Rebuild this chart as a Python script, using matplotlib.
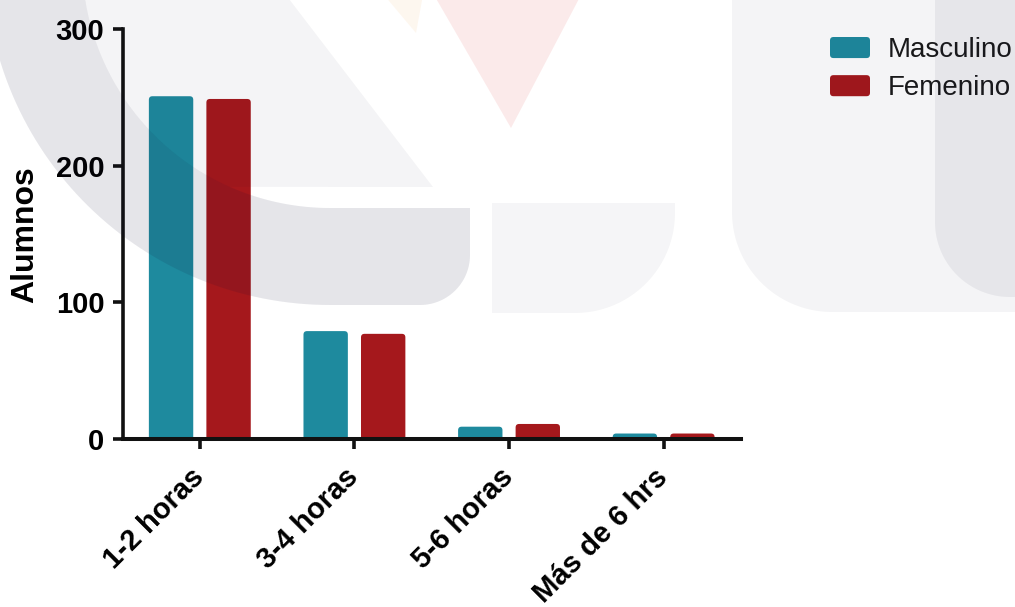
import matplotlib
matplotlib.use("Agg")
import matplotlib.pyplot as plt
import numpy as np
from matplotlib.patches import FancyBboxPatch, Patch, Polygon
from matplotlib.legend_handler import HandlerPatch
from matplotlib.transforms import Affine2D, ScaledTranslation

# ---- data -------------------------------------------------------------
categories = ["1-2 horas", "3-4 horas", "5-6 horas", "Más de 6 hrs"]
masculino = [251, 79, 9, 4]
femenino = [249, 77, 11, 4]
series_names = ["Masculino", "Femenino"]
y_ticks = [0, 100, 200, 300]

# ---- style ------------------------------------------------------------
colors = ["#1E8A9E", "#A5181C"]
plt.rcParams["font.family"] = ["Liberation Sans", "DejaVu Sans"]

W, H = 1015, 607
fig = plt.figure(figsize=(W / 100, H / 100), dpi=100)
fig.patch.set_facecolor("white")

# pixel coordinates (origin top-left) for the background emblem
px = Affine2D().scale(1 / W, -1 / H).translate(0, 1) + fig.transFigure

ax = fig.add_axes([0.1207, 0.2768, 0.6093, 0.6749])
ax.set_facecolor("none")

x = np.arange(len(categories))
width = 0.287
offset = 0.186
bars_m = ax.bar(x - offset, masculino, width, color=colors[0])
bars_f = ax.bar(x + offset, femenino, width, color=colors[1])

ax.set_xlim(-0.5, 3.5)
ax.set_ylim(0, 300)

# replace plain rectangles with rounded-top boxes of the same geometry
pos = ax.get_position()
px_per_x = pos.width * W / (ax.get_xlim()[1] - ax.get_xlim()[0])
px_per_y = pos.height * H / (ax.get_ylim()[1] - ax.get_ylim()[0])
aspect = px_per_x / px_per_y
rx = 3.5 / px_per_x
ry = rx * aspect
for container, color in ((bars_m, colors[0]), (bars_f, colors[1])):
    for rect in container:
        x0, w, h = rect.get_x(), rect.get_width(), rect.get_height()
        box = FancyBboxPatch((x0, -ry), w, h + ry,
                             boxstyle=f"round,pad=0,rounding_size={rx}",
                             mutation_aspect=aspect,
                             facecolor=color, edgecolor="none", linewidth=0)
        ax.add_patch(box)
        rect.set_visible(False)

# axes styling
for side in ("top", "right"):
    ax.spines[side].set_visible(False)
ax.spines["left"].set_linewidth(2.6)
ax.spines["bottom"].set_linewidth(2.9)
ax.spines["left"].set_color("#111111")
ax.spines["bottom"].set_color("#111111")
ax.tick_params(axis="both", width=2.6, length=7, color="#111111", pad=6)

ax.set_yticks(y_ticks, labels=[str(v) for v in y_ticks],
              fontsize=21, fontweight="bold")
ax.set_xticks(x, labels=categories, rotation=45, ha="right",
              rotation_mode="anchor", fontsize=21, fontweight="bold")
shift = ScaledTranslation(-10 / 100, -6 / 100, fig.dpi_scale_trans)
for lbl in ax.get_xticklabels():
    lbl.set_transform(lbl.get_transform() + shift)
ax.set_ylabel("Alumnos", fontsize=23, fontweight="bold", labelpad=11)


def rounded_handle(legend, orig_handle, xdescent, ydescent, width, height, fontsize):
    return FancyBboxPatch((-xdescent, -ydescent), width, height,
                          boxstyle="round,pad=0,rounding_size=2.5")


handles = [Patch(facecolor=c, edgecolor="none", label=n)
           for c, n in zip(colors, series_names)]
leg = ax.legend(handles=handles, loc="upper left",
                bbox_to_anchor=(830, 37), bbox_transform=px,
                frameon=False, fontsize=20, handlelength=1.44,
                handleheight=0.79, handletextpad=0.65, labelspacing=0.43,
                borderpad=0, borderaxespad=0,
                handler_map={Patch: HandlerPatch(patch_func=rounded_handle)})
for t in leg.get_texts():
    t.set_color("#1a1a1a")


# ---- faint emblem behind / over the plot ------------------------------
def arc(cx, cy, r, t0, t1, n=80):
    th = np.radians(np.linspace(t0, t1, n))
    return np.column_stack([cx + r * np.cos(th), cy + r * np.sin(th)])


def rounded_rect(x0, y0, x1, y1, r_bl=0, r_br=0):
    pts = [(x0, y0), (x1, y0)]
    if r_br:
        pts += list(arc(x1 - r_br, y1 - r_br, r_br, 0, 90))
    else:
        pts.append((x1, y1))
    if r_bl:
        pts += list(arc(x0 + r_bl, y1 - r_bl, r_bl, 90, 180))
    else:
        pts.append((x0, y1))
    return np.array(pts)


tint = (0.05, 0.05, 0.2)
dark_band = np.vstack([
    arc(330, -40, 345, 200, 90),
    arc(420, 255, 50, 90, 0),
    [(470, 208)],
    arc(330, -40, 248, 90, 200),
])
light_wedge = np.vstack([
    arc(330, -40, 248, 175, 113.8),
    [(433, 187), (286, -5)],
])
shapes = [
    (dark_band, tint, 0.105),
    (light_wedge, tint, 0.045),
    (rounded_rect(492, 203, 675, 313, r_br=100), tint, 0.04),
    (rounded_rect(732, -5, 1020, 312, r_bl=100), tint, 0.045),
    (rounded_rect(935, -5, 1020, 297, r_bl=75), tint, 0.06),
    (np.array([(434, -5), (581, -5), (511, 128)]), (0.85, 0.1, 0.1), 0.09),
    (np.array([(384, -5), (423, -5), (416, 33)]), (0.95, 0.6, 0.2), 0.08),
]
for pts, col, a in shapes:
    fig.add_artist(Polygon(pts, closed=True, transform=px, facecolor=col,
                           alpha=a, linewidth=0, zorder=5))

fig.savefig("out.png", dpi=100)
